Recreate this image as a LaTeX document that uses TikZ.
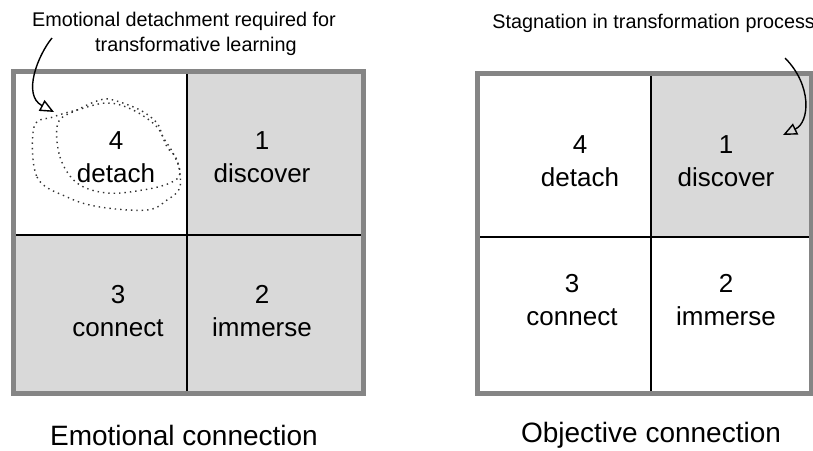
\documentclass[tikz,border=0pt]{standalone}
\usepackage{fontspec}
\setmainfont{Liberation Sans}
\usetikzlibrary{arrows.meta}
\definecolor{cellgray}{HTML}{D9D9D9}
\definecolor{framegray}{HTML}{858585}
\tikzset{
  celltext/.style={font=\fontsize{13}{16.5}\selectfont, align=center, inner sep=0pt},
  caption/.style={font=\fontsize{14}{17}\selectfont, inner sep=0pt},
  note/.style={font=\fontsize{9.9}{12.5}\selectfont, align=center, inner sep=0pt},
  frame/.style={draw=framegray, line width=2.5pt},
  divider/.style={draw=black, line width=1pt},
  pointer/.style={line width=0.7pt, -{Triangle[open, length=7pt, width=6pt]}},
  loop/.style={dotted, line width=0.7pt, black!80},
}
\begin{document}
\begin{tikzpicture}[x=0.5pt, y=-0.5pt]
\useasboundingbox (0,0) rectangle (813,450);

% ---- left grid: emotional connection ----
\fill[cellgray] (187,235) rectangle (363,393);
\fill[cellgray] (13,235) rectangle (187,393);
\fill[cellgray] (187,71) rectangle (363,235);
\fill[white] (13,71) rectangle (187,235);
\draw[divider] (187,71) -- (187,393);
\draw[divider] (13,235) -- (363,235);
\draw[frame] (13,71) rectangle (363,393);

\node[celltext] (l4) at (116,157) {4\\detach};
\node[celltext] (l1) at (262,157) {1\\discover};
\node[celltext] (l3) at (118,311) {3\\connect};
\node[celltext] (l2) at (262,311) {2\\immerse};
\node[caption] (lcap) at (184,435) {Emotional connection};

% dotted loops around "detach"
\draw[loop] plot[smooth cycle, tension=0.6] coordinates {
  (34,127) (37,177) (67,197) (100,207) (147,210) (167,200) (180,187)
  (177,160) (167,147) (157,127) (133,110) (107,103) (77,110) (53,117)};
\draw[loop] plot[smooth cycle, tension=0.6] coordinates {
  (58,123) (60,157) (77,183) (107,193) (143,190) (170,183) (180,173)
  (173,153) (163,137) (157,123) (140,110) (113,100) (100,100) (77,110)};

\node[note] (lnote) at (184,34) {Emotional detachment required for\\\hspace*{1.2em}transformative learning};
\coordinate (lstart) at (52,38);
\coordinate (lend) at (54,112);
\draw[pointer] (lstart) .. controls (38,55) and (22,95) .. (lend);

% ---- right grid: objective connection ----
\fill[white] (477,73) rectangle (811,393);
\fill[cellgray] (651,73) rectangle (811,237);
\draw[divider] (651,73) -- (651,393);
\draw[divider] (477,237) -- (811,237);
\draw[frame] (477,73) rectangle (811,393);

\node[celltext] (r4) at (580,161) {4\\detach};
\node[celltext] (r1) at (726,161) {1\\discover};
\node[celltext] (r3) at (572,300) {3\\connect};
\node[celltext] (r2) at (726,300) {2\\immerse};
\node[caption] (rcap) at (651,435) {Objective connection};

\node[note, anchor=west] (rnote) at (492,23) {Stagnation in transformation process};
\coordinate (rstart) at (785,58);
\coordinate (rend) at (783,135);
\draw[pointer] (rstart) .. controls (812,85) and (810,122) .. (rend);
\end{tikzpicture}
\end{document}
